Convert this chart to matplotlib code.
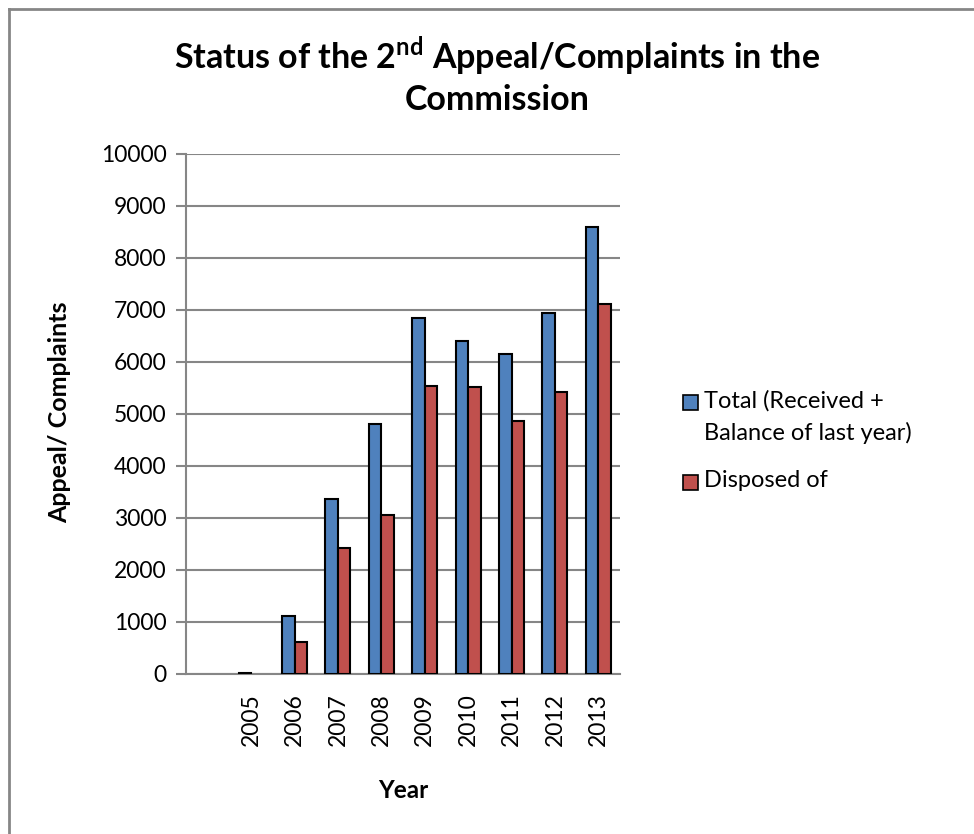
import matplotlib.pyplot as plt
import numpy as np
from matplotlib.patches import Rectangle
from matplotlib.lines import Line2D

years = ['', '2005', '2006', '2007', '2008', '2009', '2010', '2011', '2012', '2013']
total = [np.nan, 25, 1110, 3370, 4800, 6840, 6400, 6160, 6950, 8600]
disposed = [np.nan, np.nan, 620, 2430, 3050, 5540, 5520, 4865, 5420, 7120]
y_ticks = [0, 1000, 2000, 3000, 4000, 5000, 6000, 7000, 8000, 9000, 10000]
series_names = ['Total (Received +\nBalance of last year)', 'Disposed of']

plt.rcParams['font.family'] = ['Lato', 'DejaVu Sans']
plt.rcParams['mathtext.fontset'] = 'custom'
plt.rcParams['mathtext.rm'] = 'Lato:bold'
plt.rcParams['mathtext.bf'] = 'Lato:bold'

blue = '#4F81BD'
red = '#C0504D'
grid_col = '#868686'

fig = plt.figure(figsize=(9.74, 8.34), dpi=100)
ax = fig.add_axes([186 / 974, 1 - 674 / 834, (620 - 186) / 974, (674 - 154) / 834])

x = np.arange(len(years))
w = 0.286
ax.bar(x - w / 2, total, w, color=blue, edgecolor='black', linewidth=1.5, zorder=3)
ax.bar(x + w / 2, disposed, w, color=red, edgecolor='black', linewidth=1.5, zorder=3)

ax.set_xlim(-0.5, len(years) - 0.5)
ax.set_ylim(0, 10000)
ax.set_yticks(y_ticks)
ax.set_xticks(x)
ax.set_xticklabels(years, rotation=90, fontsize=16.5)
ax.tick_params(axis='y', labelsize=16.5, length=7, width=1.5, color=grid_col, pad=7)
ax.tick_params(axis='x', length=0, pad=14)
ax.yaxis.grid(True, color=grid_col, linewidth=1.5, zorder=0)
ax.set_axisbelow(True)
for s in ['top', 'right']:
    ax.spines[s].set_visible(False)
ax.spines['left'].set_color(grid_col)
ax.spines['left'].set_linewidth(1.5)
ax.spines['bottom'].set_color(grid_col)
ax.spines['bottom'].set_linewidth(1.5)

# axis titles
fig.text(60 / 974, 1 - 412 / 834, 'Appeal/ Complaints', fontsize=18, fontweight='bold',
         rotation=90, ha='center', va='center')
fig.text(403 / 974, 1 - 791 / 834, 'Year', fontsize=17.5, fontweight='bold', ha='center', va='center')

fig.text(497 / 974, 1 - 56 / 834, r'Status of the 2$^{\mathrm{nd}}$ Appeal/Complaints in the',
         fontsize=24.5, fontweight='bold', ha='center', va='center')
fig.text(497 / 974, 1 - 100 / 834, 'Commission', fontsize=24.5, fontweight='bold', ha='center', va='center')

# legend drawn by hand, square beside the first text line like in the original
legend_rows = [402, 482]
for name, col, yy in zip(series_names, [blue, red], legend_rows):
    fig.add_artist(Rectangle((683 / 974, 1 - (yy + 8) / 834), 15 / 974, 15 / 834,
                             facecolor=col, edgecolor='black', linewidth=1.2,
                             transform=fig.transFigure))
    fig.text(704 / 974, 1 - (yy - 12) / 834, name, fontsize=17, ha='left', va='top',
             linespacing=1.6)

# outer chart border (top and left visible)
fig.add_artist(Line2D([9 / 974, 1], [1 - 9 / 834, 1 - 9 / 834], color=grid_col, linewidth=2))
fig.add_artist(Line2D([9 / 974, 9 / 974], [0, 1 - 9 / 834], color=grid_col, linewidth=2))

fig.savefig('out.png', dpi=100)
